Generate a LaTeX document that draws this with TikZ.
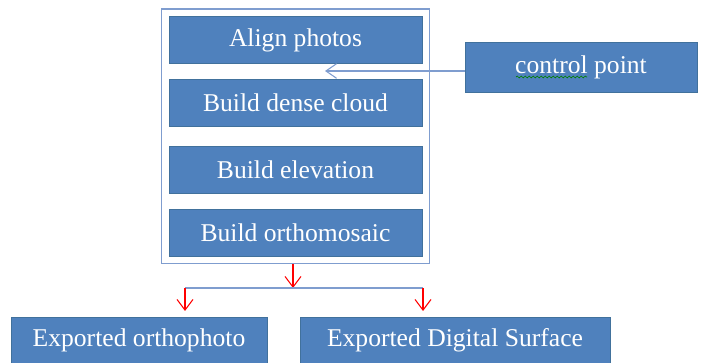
\documentclass[tikz,border=0pt]{standalone}
\usepackage{fontspec}
\setmainfont{Liberation Serif}
\newfontfamily\stepfont{Liberation Serif}
\usetikzlibrary{arrows.meta,fit,decorations.pathmorphing}
\definecolor{boxblue}{HTML}{4F81BD}
\definecolor{boxedge}{HTML}{41719C}
\definecolor{lineblue}{HTML}{7F9DCF}

\begin{document}
\begin{tikzpicture}[x=0.75pt,y=-0.75pt,
    stepbox/.style={draw=boxedge,fill=boxblue,text=white,inner sep=0pt,
        font=\stepfont\fontsize{19.2}{23}\selectfont,line width=0.6pt},
    bluetip/.style={draw=lineblue,line width=0.8pt,-{Straight Barb[length=8pt,width=11pt]}},
    redtip/.style={draw=red,line width=0.8pt,-{Straight Barb[length=8pt,width=12pt]}}]
    % Page size
    \useasboundingbox (0,0) rectangle (708,363);
    \clip (0,0) rectangle (708,363);

    % Processing steps, stacked
    \foreach \name/\y/\txt in {align/40/Align photos, dense/102.5/Build dense cloud,
        elev/169.5/Build elevation, ortho/232.5/Build orthomosaic} {
        \node[stepbox,minimum width=189.75pt,minimum height=35.25pt] (\name) at (295.5,\y) {\txt};
    }

    % Frame round the steps
    \node[draw=lineblue,line width=1pt,inner sep=5.25pt,fit=(align)(ortho)] (frame) {};

    % Control point input
    \node[stepbox,minimum width=174pt,minimum height=37.5pt] (control) at (581,67) {control point};
    \draw[green!50!black,line width=0.5pt,decorate,
        decoration={snake,amplitude=0.7pt,segment length=3pt}] (516,77) -- (587,77);
    \coordinate (cpin) at (325,71);
    \draw[bluetip] (control.west |- cpin) -- (cpin);

    % Outputs
    \node[stepbox,minimum width=192pt,minimum height=35.25pt] (orthophoto) at (139,340.5) {Exported orthophoto};
    \node[stepbox,minimum width=232.5pt,minimum height=35.25pt] (surface) at (455,340.5) {Exported Digital Surface};

    % Split below the frame
    \coordinate (split) at (293,288);
    \coordinate (left) at (185,288);
    \coordinate (right) at (423,288);
    \draw[redtip] (frame.south -| split) -- (split);
    \draw[lineblue,line width=1pt] (left) -- (right);
    \draw[redtip] (left) -- ++(0,23);
    \draw[redtip] (right) -- ++(0,23);

\end{tikzpicture}
\end{document}
